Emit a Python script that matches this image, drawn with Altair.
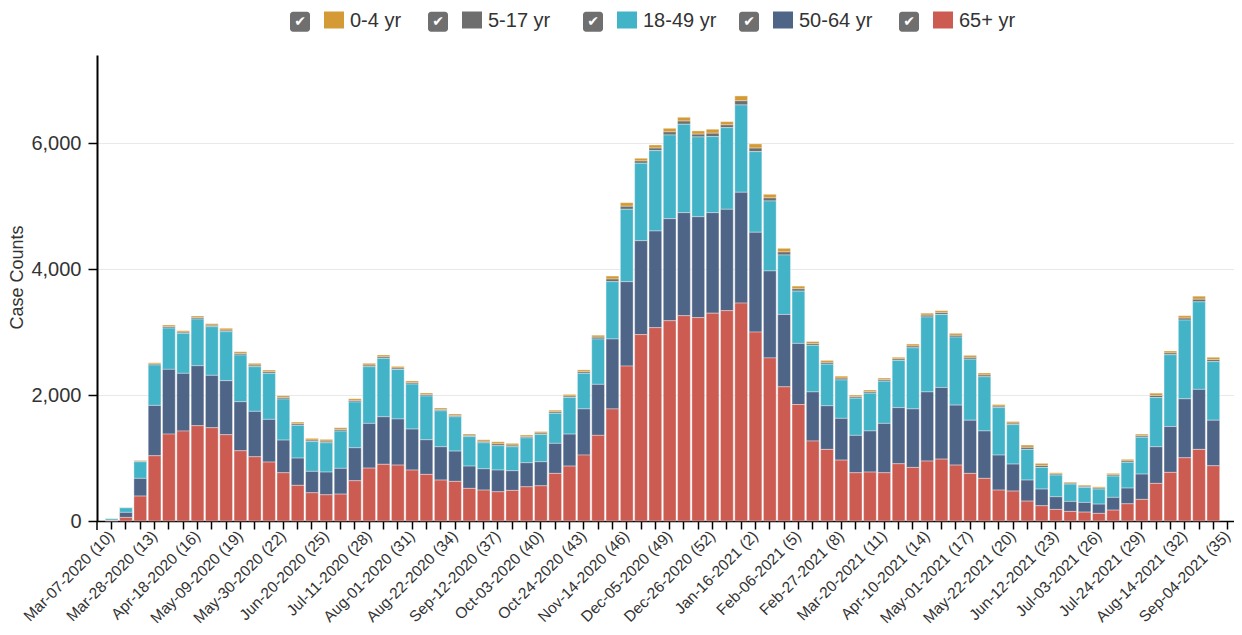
import datetime as dt
import altair as alt
import pandas as pd

# ---- categories: MMWR week-ending dates ----
start = dt.date(2020, 3, 7)
weeks = []
for i in range(79):
    d = start + dt.timedelta(days=7 * i)
    wk = 10 + i if i < 44 else i - 43
    weeks.append(f"{d.strftime('%b-%d-%Y')} ({wk})")

groups = ["0-4 yr", "5-17 yr", "18-49 yr", "50-64 yr", "65+ yr"]
colors = ["#d49a35", "#6e6e6e", "#43b3c7", "#4f6587", "#cc5b52"]

# ---- series values ----
age_0_4 = [4,5,13,20,26,23,26,26,29,28,
           29,28,28,28,28,29,29,28,29,29,
           27,27,26,24,24,23,26,34,29,24,
           24,27,27,30,32,48,57,43,49,57,
           60,51,63,52,77,66,57,57,43,32,
           32,32,27,27,27,27,32,32,32,32,
           32,32,27,27,37,34,20,17,19,19,
           23,26,27,38,32,38,49,38,0]
age_5_17 = [3,3,10,16,22,19,22,22,24,24,
            25,24,24,24,24,25,24,23,25,24,
            23,22,22,20,20,19,22,29,25,21,
            21,23,23,25,28,41,48,36,41,49,
            51,44,54,44,66,57,49,49,37,28,
            28,28,23,23,23,23,28,28,28,28,
            28,28,23,23,32,30,17,15,17,17,
            20,22,23,32,28,32,41,32,0]
age_18_49 = [23,71,263,641,656,635,741,772,778,742,
             709,731,652,520,472,465,592,727,900,928,
             785,715,695,571,545,468,413,386,381,395,
             434,477,580,565,720,910,1150,1230,1276,1329,
             1404,1267,1208,1296,1387,1280,1111,944,830,740,
             660,610,590,600,670,750,970,1190,1160,1080,
             970,860,753,626,487,344,344,275,239,239,
             338,408,585,781,1140,1250,1390,930,0]
age_50_64 = [5,80,281,800,1028,917,953,832,858,779,
             721,678,519,433,340,361,409,524,710,755,
             732,651,550,529,481,354,338,345,312,382,
             382,477,508,733,810,1110,1340,1491,1535,1621,
             1636,1602,1596,1610,1760,1585,1381,1150,970,780,
             693,663,594,653,784,891,929,1098,1137,952,
             844,753,556,429,334,265,201,159,154,147,
             202,250,402,582,728,936,953,723,0]
age_65 = [5,57,396,1036,1380,1428,1513,1481,1370,1115,
          1020,936,766,566,448,416,427,639,840,900,
          888,809,740,650,629,518,491,464,486,543,
          559,756,872,1047,1360,1780,2460,2960,3070,3180,
          3260,3230,3300,3340,3460,3000,2590,2130,1850,1270,
          1137,967,766,777,766,909,851,952,983,888,
          756,677,491,475,316,242,184,152,141,121,
          173,273,343,597,772,1004,1137,877,0]

series = [age_0_4, age_5_17, age_18_49, age_50_64, age_65]
for s in series:
    assert len(s) == len(weeks)

stack_rank = {"65+ yr": 0, "50-64 yr": 1, "18-49 yr": 2, "5-17 yr": 3, "0-4 yr": 4}
rows = []
for g, vals in zip(groups, series):
    for w, v in zip(weeks, vals):
        if v > 0:
            rows.append({"week": w, "group": g, "count": v, "ord": stack_rank[g]})
df = pd.DataFrame(rows)

labeled = weeks[::3]
label_expr = ("indexof([" + ",".join(f"'{w}'" for w in labeled) +
              "], datum.value) >= 0 ? datum.label : ''")

FONT = "Liberation Sans"
W, H = 1137, 466

bars = alt.Chart(df).mark_bar(stroke="white", strokeWidth=0.6, strokeOpacity=0.6).encode(
    x=alt.X("week:N",
            scale=alt.Scale(domain=weeks, paddingInner=0.11, paddingOuter=0.29, align=1),
            axis=alt.Axis(title=None, labelExpr=label_expr, labelAngle=315,
                          labelAlign="right", labelBaseline="middle",
                          labelFontSize=15.5, labelFont=FONT, labelColor="#333333",
                          labelPadding=4, labelOverlap=False, labelBound=False,
                          tickSize=8, tickWidth=1.5, tickColor="black",
                          domainColor="black", domainWidth=1.5, grid=False)),
    y=alt.Y("count:Q", stack="zero",
            scale=alt.Scale(domain=[0, 7400], nice=False),
            axis=alt.Axis(title="Case Counts", values=[0, 2000, 4000, 6000], format=",.0f",
                          labelFontSize=20, labelFont=FONT, labelColor="#333333",
                          labelPadding=7, tickSize=9, tickWidth=1.5, tickColor="black",
                          domainColor="black", domainWidth=2,
                          grid=True, gridColor="#e9e9e9", gridWidth=1,
                          titleFont=FONT, titleFontSize=18, titleFontWeight="normal",
                          titleColor="#333333", titleAngle=270, titleX=-71, titleY=222,
                          titleAlign="center", titleBaseline="bottom")),
    color=alt.Color("group:N", scale=alt.Scale(domain=groups, range=colors), legend=None),
    order=alt.Order("ord:Q", sort="ascending"),
)

one = alt.Data(values=[{"k": 1}])
layers = [bars]

# outer tick of the x domain at the origin
layers.append(alt.Chart(one).mark_rule(color="black", strokeWidth=1.5).encode(
    x=alt.value(0), y=alt.value(H), y2=alt.value(H + 9)))

# custom checkbox legend across the top
left0 = 97
top0 = 55
cb_left = [290, 428, 583, 739, 899]
for g, c, cb in zip(groups, colors, cb_left):
    x0 = cb - left0
    layers.append(alt.Chart(one).mark_rect(color="#6f6f6f", cornerRadius=3).encode(
        x=alt.value(x0), x2=alt.value(x0 + 20),
        y=alt.value(11.7 - top0), y2=alt.value(31.7 - top0)))
    layers.append(alt.Chart(one).mark_text(text="✔", font="DejaVu Sans", fontSize=14,
                                           color="white", align="center", baseline="middle").encode(
        x=alt.value(x0 + 10), y=alt.value(22 - top0)))
    layers.append(alt.Chart(one).mark_rect(color=c).encode(
        x=alt.value(x0 + 34), x2=alt.value(x0 + 54),
        y=alt.value(11.5 - top0), y2=alt.value(28.5 - top0)))
    layers.append(alt.Chart(one).mark_text(text=g, font=FONT, fontSize=20, color="#333333",
                                           align="left", baseline="alphabetic").encode(
        x=alt.value(x0 + 60), y=alt.value(26.7 - top0)))

chart = alt.layer(*layers).properties(
    width=W, height=H,
    autosize=alt.AutoSizeParams(type="none"),
    padding={"left": 89, "top": 47, "right": 0, "bottom": 106},
).configure_view(stroke=None)

chart.save("out.html", embed_options={"renderer": "svg", "actions": False})
